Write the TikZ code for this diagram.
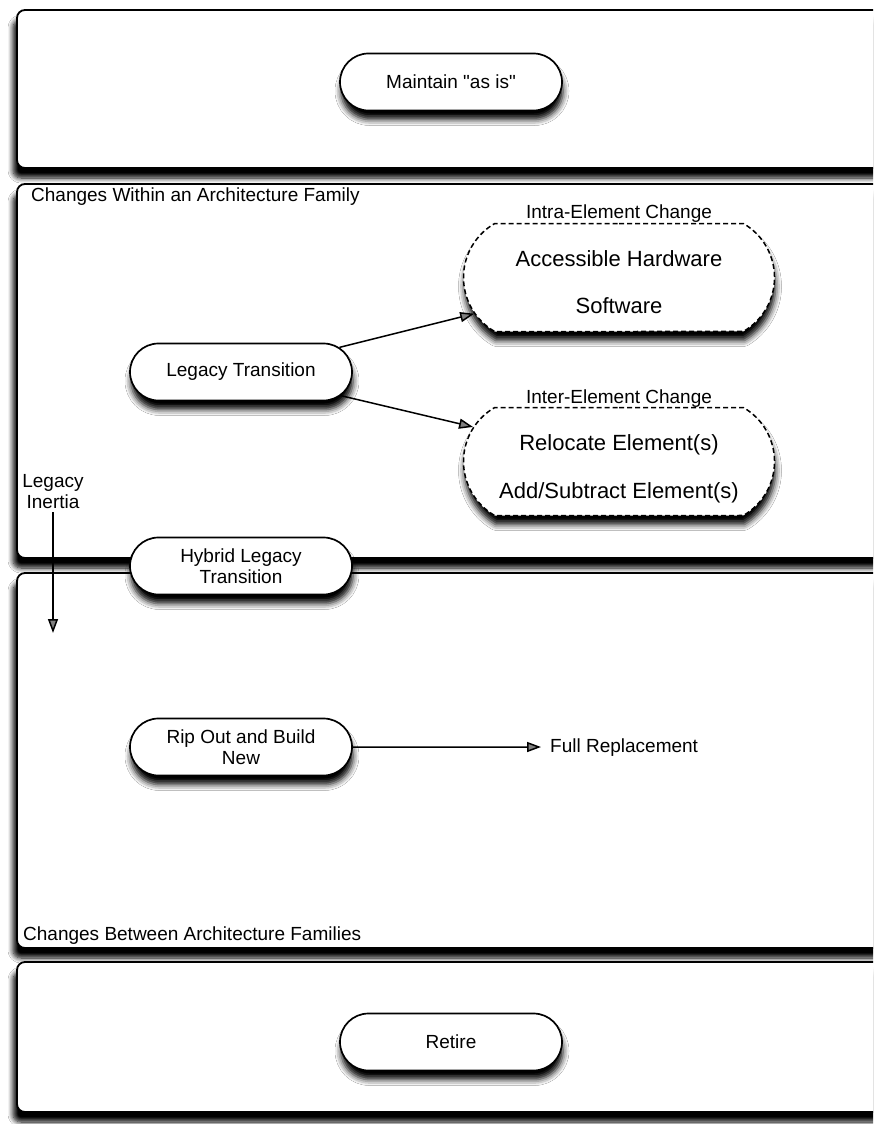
\documentclass[tikz,border=0pt]{standalone}
\usepackage{fontspec}
\setmainfont{Liberation Sans}[Ligatures=TeXOff]
\usetikzlibrary{shapes.misc,arrows.meta,shadows.blur}

\tikzset{
  panel/.style={draw=black, line width=1.8pt, fill=white, rounded corners=8pt,
    blur shadow={shadow xshift=-4pt, shadow yshift=-10pt, shadow blur radius=5pt,
      shadow blur steps=8, shadow opacity=100}},
  pill/.style={rounded rectangle, draw=black, line width=1.7pt, fill=white,
    minimum width=222pt, minimum height=57pt, inner sep=0pt, align=center,
    font=\fontsize{19}{21}\selectfont,
    blur shadow={shadow xshift=1pt, shadow yshift=-9pt, shadow blur radius=6pt, shadow opacity=100}},
  dashbox/.style={rounded rectangle, rounded rectangle arc length=120, draw=black,
    line width=1.5pt, dash pattern=on 5pt off 3pt, fill=white,
    minimum width=311pt, minimum height=108pt, inner sep=0pt,
    blur shadow={shadow xshift=1pt, shadow yshift=-9pt, shadow blur radius=6pt, shadow opacity=100}},
  lbl/.style={inner sep=0pt, font=\fontsize{19}{22}\selectfont, text height=14pt, text depth=4pt},
  boxtext/.style={inner sep=0pt, font=\fontsize{22}{26}\selectfont, text height=16pt, text depth=5pt},
  arr/.style={line width=1.5pt, -{Triangle[length=14pt,width=10pt]}},
}

\begin{document}
\begin{tikzpicture}[x=1pt,y=-1pt]
  \useasboundingbox (0,0) rectangle (873,1124);
  \clip (0,0) rectangle (873,1124);
  \fill[white] (0,0) rectangle (873,1124);

  % swim-lane panels (they run on past the right edge)
  \path[panel] (17,10) rectangle (900,168);
  \path[panel] (17,184) rectangle (900,558);
  \path[panel] (17,573) rectangle (900,948);
  \path[panel] (17,962) rectangle (900,1112);

  % panel captions
  \node[lbl, anchor=west] (within) at (31,196) {Changes Within an Architecture Family};
  \node[lbl, anchor=west] (between) at (23,935) {Changes Between Architecture Families};

  % top and bottom options
  \node[pill] (maintain) at (451,82) {Maintain "as is"};
  \node[pill] (retire) at (451,1042) {Retire};

  % changes within a family
  \node[pill] (legacy) at (241,372) {Legacy Transition};

  \node[lbl] (intralbl) at (619,213) {Intra-Element Change};
  \node[dashbox] (intra) at (619,277.5) {};
  \node[boxtext] (hw) at (619,261) {Accessible Hardware};
  \node[boxtext] (sw) at (619,308) {Software};

  \node[lbl] (interlbl) at (619,398) {Inter-Element Change};
  \node[dashbox] (inter) at (619,461.5) {};
  \node[boxtext] (reloc) at (619,445) {Relocate Element(s)};
  \node[boxtext] (addsub) at (619,493) {Add/Subtract Element(s)};

  \draw[arr] (legacy) -- (intra);
  \draw[arr] (legacy) -- (inter);

  % legacy inertia
  \node[align=center, inner sep=0pt, font=\fontsize{19}{21}\selectfont] (inertia) at (53,492) {Legacy\\Inertia};
  \coordinate (inertiaend) at (53,633);
  \draw[arr] ([yshift=-3pt]inertia.south) -- (inertiaend);

  % hybrid transition straddles the two middle panels
  \node[pill] (hybrid) at (241,566) {Hybrid Legacy\\Transition};

  % changes between families
  \node[pill] (ripout) at (241,747) {Rip Out and Build\\New};
  \node[lbl, anchor=west, inner xsep=9pt] (full) at (541,747) {Full Replacement};
  \draw[arr] (ripout) -- (full.west);
\end{tikzpicture}
\end{document}
